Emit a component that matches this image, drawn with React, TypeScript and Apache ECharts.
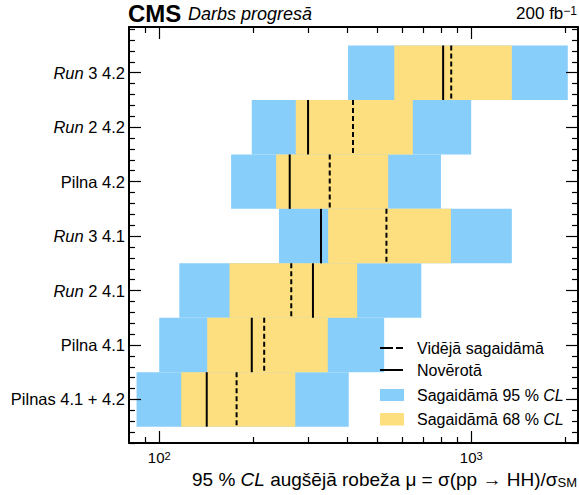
import React, { useEffect, useRef } from 'react';
import * as echarts from 'echarts';

// Rows from bottom to top
const categories = ['Pilnas 4.1 + 4.2', 'Pilna 4.1', 'Run 2 4.1', 'Run 3 4.1', 'Pilna 4.2', 'Run 2 4.2', 'Run 3 4.2'];
const lo95 = [84.6, 100, 116, 242, 170, 198, 403];
const lo68 = [117.6, 142.5, 168, 348, 237, 274, 567];
const hi68 = [273, 347, 431, 861, 542, 650, 1350];
const hi95 = [405, 526, 692, 1350, 800, 1000, 2040];
const expected = [177, 217, 265, 535, 352, 418, 863];
const observed = [142, 198, 311, 330, 262, 300, 813];

const xMajorTicks = [100, 1000];
const xMajorLabels = ['{b|10}{s|2}', '{b|10}{s|3}'];
const xMinorTicks = [90, 200, 300, 400, 500, 600, 700, 800, 900, 2000];

const FONT = '"Liberation Sans", Arial, Helvetica, sans-serif';
const BLUE = '#87CEFA';
const YELLOW = '#FEDF80';

const X_MIN = 80;
const X_MAX = 2200;
const Y_MIN = -0.8;
const Y_MAX = 6.84;

const yMajor = categories.map((_, i) => i);
const yMinor: number[] = [];
for (let k = -4; k <= 34; k++) {
  if (k % 5 !== 0) yMinor.push(Math.round(k * 20) / 100);
}

function yLabel(v: number): string {
  const c = categories[Math.round(v)];
  if (!c) return '';
  if (c.startsWith('Run ')) return '{i|Run}{n|' + c.slice(3) + '}';
  return '{n|' + c + '}';
}

function bandSeries(name: string, lo: number[], hi: number[], color: string) {
  return {
    type: 'custom',
    name,
    xAxisIndex: 0,
    yAxisIndex: 0,
    data: categories.map((_, i) => [i, lo[i], hi[i]]),
    encode: { x: [1, 2], y: 0 },
    renderItem: (_p: any, api: any) => {
      const y = api.value(0);
      const a = api.coord([api.value(1), y + 0.5]);
      const b = api.coord([api.value(2), y - 0.5]);
      return {
        type: 'rect',
        shape: { x: a[0], y: a[1], width: b[0] - a[0], height: b[1] - a[1] },
        style: { fill: color },
      };
    },
    z: 2,
  };
}

function lineSeries(name: string, vals: number[], dash: number[] | null) {
  return {
    type: 'custom',
    name,
    xAxisIndex: 0,
    yAxisIndex: 0,
    data: categories.map((_, i) => [i, vals[i]]),
    encode: { x: 1, y: 0 },
    renderItem: (_p: any, api: any) => {
      const y = api.value(0);
      const a = api.coord([api.value(1), y + 0.5]);
      const b = api.coord([api.value(1), y - 0.5]);
      return {
        type: 'line',
        shape: { x1: a[0], y1: a[1], x2: b[0], y2: b[1] },
        style: { stroke: '#000', lineWidth: 2, lineDash: dash || undefined, fill: null },
      };
    },
    z: 3,
  };
}

function xAxisDef(position: 'top' | 'bottom', ticks: number[], len: number, withLine: boolean, withLabels: boolean) {
  return {
    type: 'log',
    logBase: 10,
    min: X_MIN,
    max: X_MAX,
    position,
    z: 5,
    axisLine: { show: withLine, onZero: false, lineStyle: { color: '#000', width: 2 } },
    axisTick: {
      show: true,
      inside: true,
      length: len,
      customValues: ticks,
      lineStyle: { color: '#000', width: 1.2 },
    },
    axisLabel: withLabels
      ? {
          show: true,
          customValues: xMajorTicks,
          margin: 7,
          formatter: (v: number) => {
            const idx = xMajorTicks.findIndex((t) => Math.abs(t - v) / t < 1e-6);
            return idx >= 0 ? xMajorLabels[idx] : '';
          },
          rich: {
            b: { fontSize: 15, fontFamily: FONT, color: '#000', verticalAlign: 'bottom' },
            s: { fontSize: 11, fontFamily: FONT, color: '#000', verticalAlign: 'top' },
          },
          fontSize: 15,
          fontFamily: FONT,
          color: '#000',
        }
      : { show: false },
    splitLine: { show: false },
    minorTick: { show: false },
  };
}

function yAxisDef(position: 'left' | 'right', ticks: number[], len: number, withLine: boolean, withLabels: boolean) {
  return {
    type: 'value',
    min: Y_MIN,
    max: Y_MAX,
    position,
    z: 5,
    axisLine: { show: withLine, onZero: false, lineStyle: { color: '#000', width: 2 } },
    axisTick: {
      show: true,
      inside: true,
      length: len,
      customValues: ticks,
      lineStyle: { color: '#000', width: 1.2 },
    },
    axisLabel: withLabels
      ? {
          show: true,
          customValues: yMajor,
          margin: 4,
          formatter: (v: number) => yLabel(v),
          rich: {
            i: { fontSize: 16.5, fontFamily: FONT, fontStyle: 'italic', color: '#000' },
            n: { fontSize: 16.5, fontFamily: FONT, color: '#000' },
          },
        }
      : { show: false },
    splitLine: { show: false },
  };
}

export default function App() {
  const ref = useRef<HTMLDivElement>(null);
  useEffect(() => {
    if (!ref.current) return;
    const chart = echarts.init(ref.current, undefined, { renderer: 'svg' });
    const legendX = 380;
    const legendTextX = 417;
    const txt = (y: number, parts: string) => ({
      type: 'text',
      x: legendTextX,
      y,
      style: {
        text: parts,
        align: 'left',
        verticalAlign: 'middle',
        textAlign: 'left',
        textVerticalAlign: 'middle',
        rich: {
          n: { fontSize: 16, fontFamily: FONT, fill: '#000' },
          i: { fontSize: 16, fontFamily: FONT, fontStyle: 'italic', fill: '#000' },
        },
      },
      z: 10,
    });
    chart.setOption({
      animation: false,
      backgroundColor: '#fff',
      grid: { left: 129, right: 1, top: 27, bottom: 52, containLabel: false },
      xAxis: [
        xAxisDef('bottom', xMajorTicks, 12, true, true),
        xAxisDef('bottom', xMinorTicks, 6, false, false),
        xAxisDef('top', xMajorTicks, 12, true, false),
        xAxisDef('top', xMinorTicks, 6, false, false),
      ],
      yAxis: [
        yAxisDef('left', yMajor, 12, true, true),
        yAxisDef('left', yMinor, 6, false, false),
        yAxisDef('right', yMajor, 12, true, false),
        yAxisDef('right', yMinor, 6, false, false),
      ],
      series: [
        bandSeries('Sagaidāmā 95 % CL', lo95, hi95, BLUE),
        bandSeries('Sagaidāmā 68 % CL', lo68, hi68, YELLOW),
        lineSeries('Vidējā sagaidāmā', expected, [5, 3]),
        lineSeries('Novērotā', observed, null),
      ],
      graphic: [
        {
          type: 'text',
          x: 128,
          y: 13,
          style: {
            text: 'CMS',
            fontSize: 24,
            fontWeight: 'bold',
            fontFamily: FONT,
            fill: '#000',
            align: 'left',
            verticalAlign: 'middle',
            textAlign: 'left',
            textVerticalAlign: 'middle',
          },
        },
        {
          type: 'text',
          x: 188,
          y: 13.5,
          style: {
            text: 'Darbs progresā',
            fontSize: 18,
            fontStyle: 'italic',
            fontFamily: FONT,
            fill: '#000',
            align: 'left',
            verticalAlign: 'middle',
            textAlign: 'left',
            textVerticalAlign: 'middle',
          },
        },
        {
          type: 'text',
          x: 577,
          y: 22,
          style: {
            text: '{n|200 fb}{s|−1}',
            align: 'right',
            verticalAlign: 'bottom',
            textAlign: 'right',
            textVerticalAlign: 'bottom',
            rich: {
              n: { fontSize: 17, fontFamily: FONT, fill: '#000', verticalAlign: 'bottom' },
              s: { fontSize: 12, fontFamily: FONT, fill: '#000', verticalAlign: 'top' },
            },
          },
        },
        {
          type: 'text',
          x: 577,
          y: 479,
          style: {
            text: '{n|95 % }{i|CL}{n| augšējā robeža μ = σ(pp → HH)/σ}{b|SM}',
            align: 'right',
            verticalAlign: 'middle',
            textAlign: 'right',
            textVerticalAlign: 'middle',
            rich: {
              n: { fontSize: 19, fontFamily: FONT, fill: '#000', verticalAlign: 'bottom' },
              i: { fontSize: 19, fontFamily: FONT, fontStyle: 'italic', fill: '#000', verticalAlign: 'bottom' },
              b: { fontSize: 13, fontFamily: FONT, fill: '#000', verticalAlign: 'bottom' },
            },
          },
        },
        {
          type: 'line',
          shape: { x1: legendX, y1: 348, x2: legendX + 23, y2: 348 },
          style: { stroke: '#000', lineWidth: 2, lineDash: [13, 3] },
          z: 10,
        },
        {
          type: 'line',
          shape: { x1: legendX, y1: 370, x2: legendX + 23, y2: 370 },
          style: { stroke: '#000', lineWidth: 2 },
          z: 10,
        },
        {
          type: 'rect',
          shape: { x: legendX, y: 389, width: 24, height: 12 },
          style: { fill: BLUE },
          z: 10,
        },
        {
          type: 'rect',
          shape: { x: legendX, y: 413, width: 24, height: 12.5 },
          style: { fill: YELLOW },
          z: 10,
        },
        txt(348, '{n|Vidējā sagaidāmā}'),
        txt(370, '{n|Novērotā}'),
        txt(395, '{n|Sagaidāmā 95 % }{i|CL}'),
        txt(419, '{n|Sagaidāmā 68 % }{i|CL}'),
      ],
    });
    return () => chart.dispose();
  }, []);
  return (
    <div
      ref={ref}
      style={{ position: 'fixed', left: 0, top: 0, width: 579, height: 495, background: '#fff' }}
    />
  );
}
